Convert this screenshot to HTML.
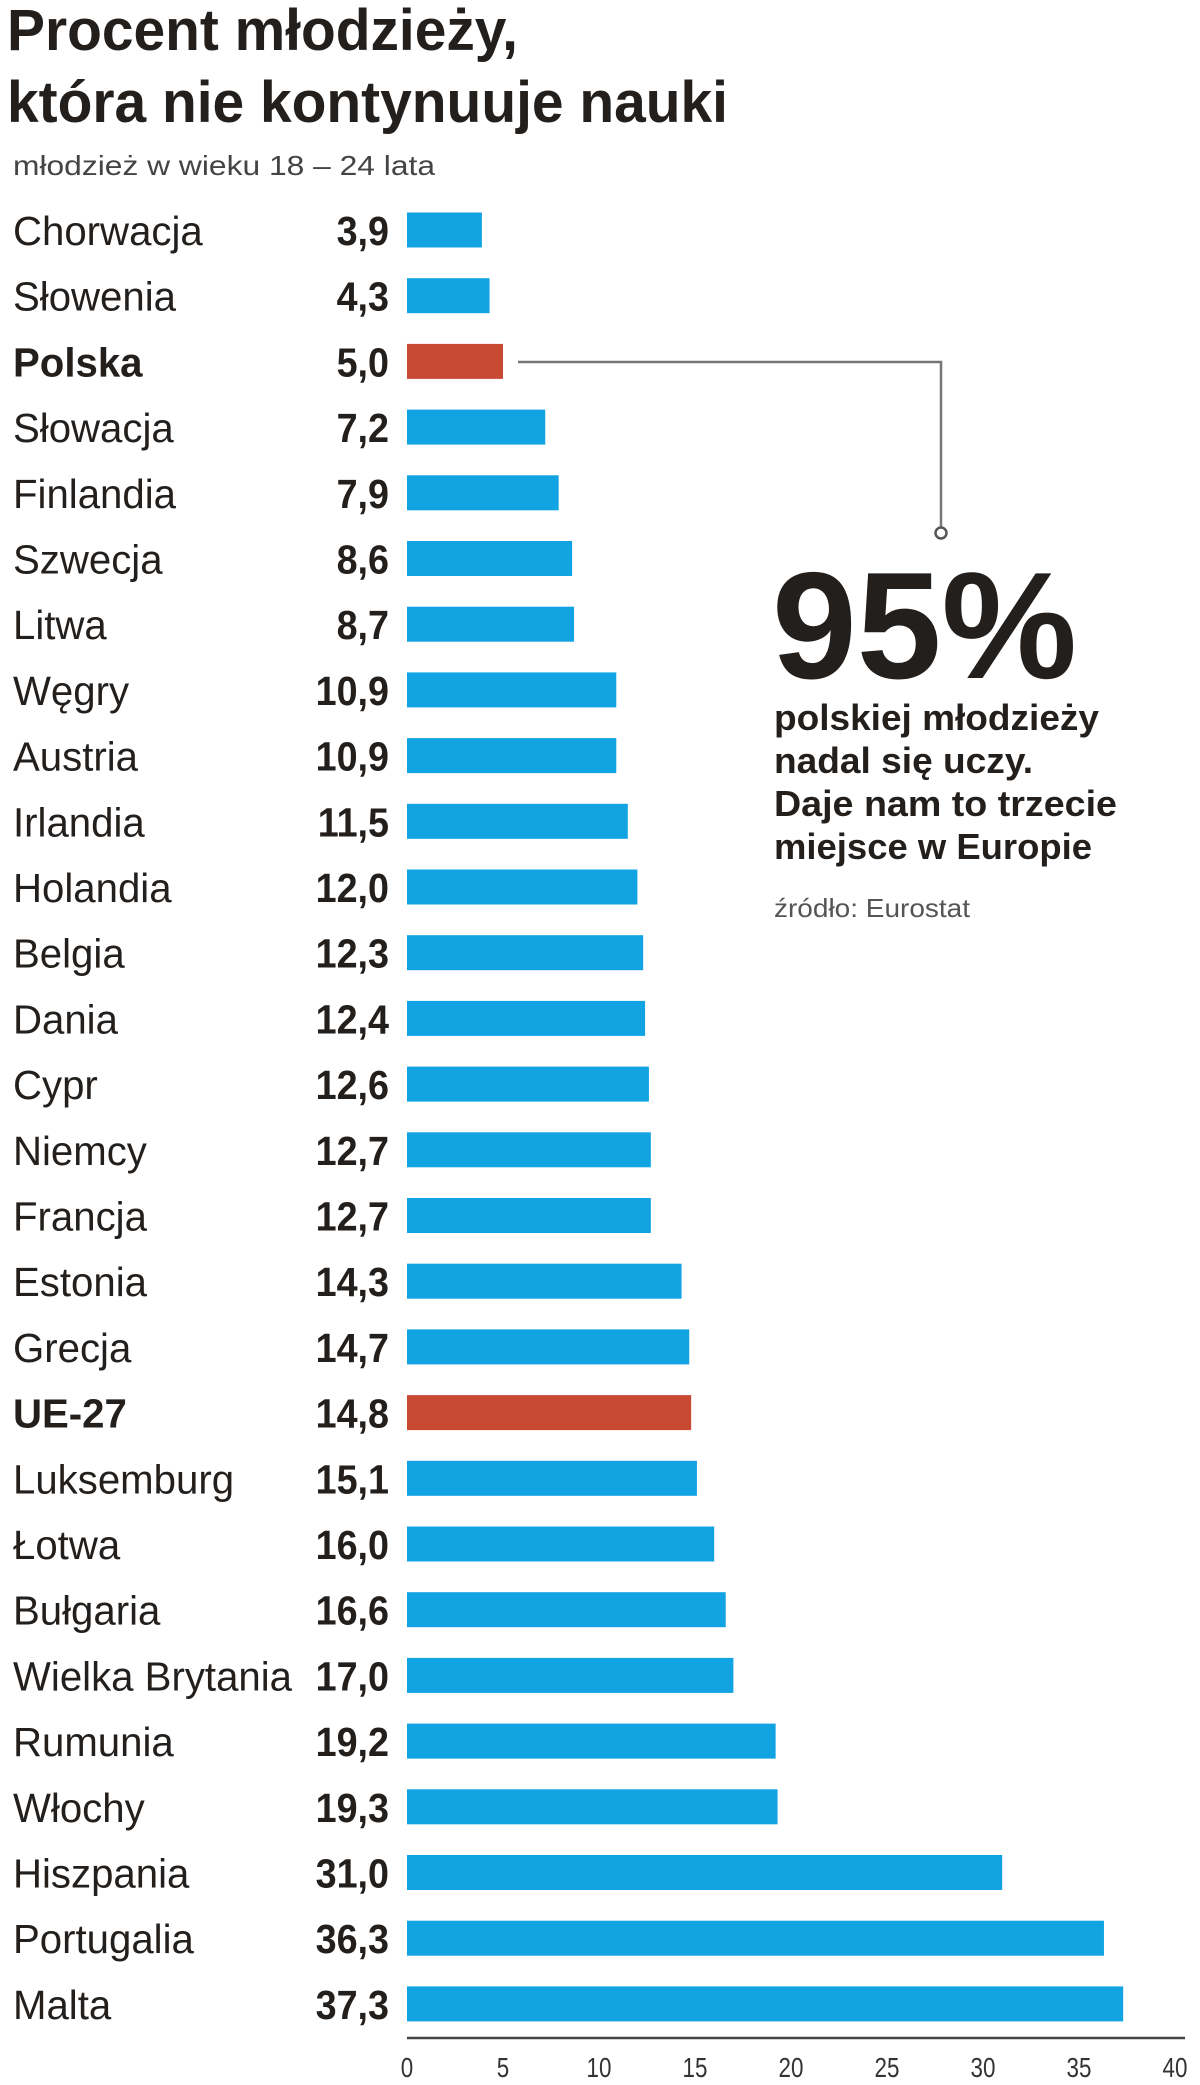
<!DOCTYPE html>
<html><head><meta charset="utf-8"><style>
html,body{margin:0;padding:0;background:#fff;}
svg{display:block;}
text{font-family:"Liberation Sans",sans-serif;fill:#231f1c;}
</style></head><body>
<svg id="chart" width="1200" height="2085" viewBox="0 0 1200 2085" xmlns="http://www.w3.org/2000/svg">
<text x="7" y="50" font-size="58" font-weight="bold" textLength="511" lengthAdjust="spacingAndGlyphs">Procent młodzieży,</text>
<text x="7" y="122" font-size="58" font-weight="bold" textLength="721" lengthAdjust="spacingAndGlyphs">która nie kontynuuje nauki</text>
<text x="13" y="175" font-size="28" style="fill:#444" textLength="422" lengthAdjust="spacingAndGlyphs">młodzież w wieku 18 – 24 lata</text>
<g id="bars"></g>
<g id="axis"></g>
<polyline points="518,362 941,362 941,528" fill="none" stroke="#777" stroke-width="2.5"/>
<circle cx="941" cy="533" r="5.5" fill="#fff" stroke="#555" stroke-width="2.5"/>
<text x="772" y="678" font-size="152" font-weight="bold" textLength="305" lengthAdjust="spacingAndGlyphs">95%</text>
<text x="774" y="730" font-size="36" font-weight="bold" textLength="325" lengthAdjust="spacingAndGlyphs">polskiej młodzieży</text>
<text x="774" y="773" font-size="36" font-weight="bold" textLength="259" lengthAdjust="spacingAndGlyphs">nadal się uczy.</text>
<text x="774" y="816" font-size="36" font-weight="bold" textLength="343" lengthAdjust="spacingAndGlyphs">Daje nam to trzecie</text>
<text x="774" y="859" font-size="36" font-weight="bold" textLength="318" lengthAdjust="spacingAndGlyphs">miejsce w Europie</text>
<text x="774" y="917" font-size="26" style="fill:#555" textLength="196" lengthAdjust="spacingAndGlyphs">źródło: Eurostat</text>
</svg>
<script>
const countries = ["Chorwacja","Słowenia","Polska","Słowacja","Finlandia","Szwecja","Litwa","Węgry","Austria","Irlandia","Holandia","Belgia","Dania","Cypr","Niemcy","Francja","Estonia","Grecja","UE-27","Luksemburg","Łotwa","Bułgaria","Wielka Brytania","Rumunia","Włochy","Hiszpania","Portugalia","Malta"];
const values = [3.9,4.3,5.0,7.2,7.9,8.6,8.7,10.9,10.9,11.5,12.0,12.3,12.4,12.6,12.7,12.7,14.3,14.7,14.8,15.1,16.0,16.6,17.0,19.2,19.3,31.0,36.3,37.3];
const highlighted = ["Polska","UE-27"];
const ticks = [0,5,10,15,20,25,30,35,40];

const NS = "http://www.w3.org/2000/svg";
const x = v => 407 + v * 19.2;
const yc = i => 230 + i * 65.7;
const BAR_H = 35;
const gBars = document.getElementById("bars");
const gAxis = document.getElementById("axis");
function mk(tag, attrs){const e=document.createElementNS(NS,tag);for(const k in attrs)e.setAttribute(k,attrs[k]);return e;}

countries.forEach((c,i)=>{
  const hl = highlighted.includes(c);
  const r = mk("rect",{x:x(0),y:yc(i)-BAR_H/2,width:x(values[i])-x(0),height:BAR_H,fill:hl?"#c94a33":"#12a3e3"});
  
  
  gBars.appendChild(r);
  const lab = mk("text",{x:0,y:0,"font-size":41,"font-weight":hl?"bold":"normal",transform:`translate(13,${yc(i)+15}) scale(0.98,1)`});
  lab.textContent = c;
  
  
  gBars.appendChild(lab);
  const val = mk("text",{x:0,y:0,"font-size":41,"font-weight":"bold","text-anchor":"end",transform:`translate(389,${yc(i)+15}) scale(0.92,1)`});
  val.textContent = values[i].toFixed(1).replace(".",",");
  
  
  gBars.appendChild(val);
});

const axisLine = mk("line",{x1:x(0),x2:x(40)+10,y1:2038,y2:2038,stroke:"#444","stroke-width":2.5});


gAxis.appendChild(axisLine);
ticks.forEach(t=>{
  const tx = mk("text",{x:0,y:0,"font-size":28,"text-anchor":"middle",transform:`translate(${x(t)},2077) scale(0.8,1)`,style:"fill:#333"});
  tx.textContent = t;
  
  
  gAxis.appendChild(tx);
});
</script>
</body></html>
